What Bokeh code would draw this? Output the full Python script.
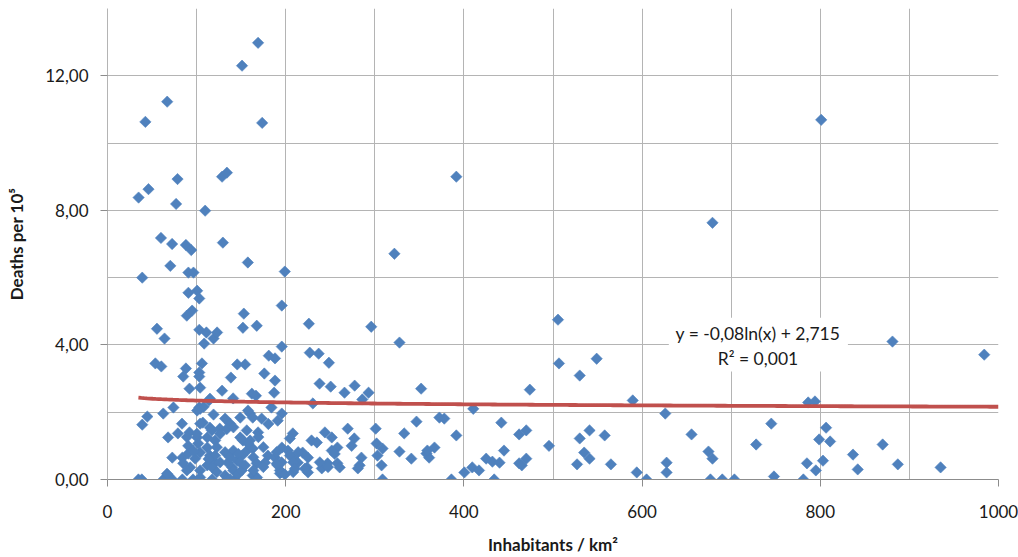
import numpy as np
from bokeh.plotting import figure
from bokeh.models import FixedTicker, Range1d, ColumnDataSource
from bokeh.core.properties import value
from bokeh.embed import file_html
from bokeh.resources import INLINE

# ---- data ----
density = [
    169, 151, 67, 42.5, 173.6, 801, 78.6, 128.6, 134, 391.5, 46, 34.9, 77, 109.6, 679,
    60, 72.5, 88, 94, 129.5, 322, 157.5, 70.5, 90.8, 96.5, 199, 39,
    90.8, 100.6, 103, 89, 95, 195.6, 505.6,
    55.5, 64, 103, 111, 108.5, 119, 123, 153, 152, 167.5, 195.6, 226, 296, 327.7, 881, 984,
    237, 227, 248.5, 53.7, 60.4, 88, 85, 106, 103, 103, 145.6, 154.5, 181, 188, 138.5, 176, 188,
    506.7, 530, 549,
    92, 104, 128.6, 187, 238, 250.5, 141, 114, 162, 166.6, 230.5, 266, 277.4, 293, 286, 352, 474,
    589.5, 786.4, 794,
    103, 108, 74, 44.7, 39, 62.6, 119, 149, 160, 173, 184, 195.6, 191, 157.7, 132, 410.5, 346.8,
    372.5, 378, 442, 626, 745,
    83.6, 92, 107, 115, 126, 137.6, 68, 79, 100.6, 112, 149, 160, 169, 208, 204.7, 229, 235, 244,
    251.7, 152, 269.6, 301, 333, 391.5, 462, 470, 277, 274, 258, 302, 308.7, 251.7, 303, 327.7,
    341, 358, 361, 367, 359, 445, 462, 470, 285, 283, 281, 258, 260.6, 307.6, 308.7, 386, 400.5,
    409.4, 417, 425, 432, 440, 434, 465,
    495.5, 530, 541, 558, 535, 541, 527, 565, 594, 605, 627.5, 627.5, 655.5, 674.5, 679, 676.7,
    690, 703.6, 728, 748, 781, 785, 795, 798.7, 806.5, 811, 803, 836.7, 842, 870, 887, 935,
    163, 156.6, 163, 195.7, 202.5, 219, 225, 208, 213.6, 180, 188, 176.7, 191, 193.5, 163, 167.8,
    135, 140, 145.5, 151, 132, 143, 224, 225, 247, 240.5,
    115, 104, 100.6, 104, 90.6, 101.8, 112, 120.8, 72.7, 84, 85, 90.6, 98.4, 104, 115, 120.8,
    92.8, 104, 112, 118.6, 34.7, 62.6, 68, 72.7, 84, 96, 104, 117.4,
    120.8, 126.4, 132, 137.6, 141.3, 146.9, 148.8, 158.1, 163.7, 167.4, 169.3, 174.9, 189.8,
    195.4, 193.5, 204.7, 208.4, 214, 221.5, 238.3, 247.5, 255,
    38.5, 66.8, 89.1, 122.7, 133.9, 137.6, 141.3, 146.9, 150.7, 154.4, 163.7, 167.4, 174.9,
    189.8, 195.4, 199.1, 208.4, 210.3,
    89.1, 100.3, 117.1, 126.4, 133.9, 141.3, 156.3, 180.5, 96.6, 113.4, 122.7,
]
deaths = [
    12.98, 12.30, 11.23, 10.63, 10.60, 10.69, 8.93, 9.00, 9.12, 9.00, 8.63, 8.38, 8.19, 7.99, 7.63,
    7.18, 7.00, 6.97, 6.82, 7.04, 6.71, 6.45, 6.35, 6.15, 6.15, 6.18, 6.00,
    5.55, 5.61, 5.38, 4.87, 5.02, 5.17, 4.75,
    4.48, 4.19, 4.45, 4.37, 4.04, 4.19, 4.37, 4.93, 4.51, 4.57, 3.95, 4.63, 4.54, 4.07, 4.10, 3.71,
    3.74, 3.77, 3.47, 3.45, 3.36, 3.30, 3.06, 3.45, 3.18, 3.06, 3.42, 3.42, 3.68, 3.60, 3.03, 3.15, 2.94,
    3.45, 3.09, 3.59,
    2.70, 2.73, 2.64, 2.58, 2.85, 2.76, 2.41, 2.35, 2.55, 2.49, 2.26, 2.58, 2.79, 2.58, 2.38, 2.70, 2.67,
    2.35, 2.29, 2.32,
    2.14, 2.16, 2.14, 1.87, 1.63, 1.96, 1.93, 1.84, 1.96, 1.81, 2.14, 1.96, 1.75, 2.05, 1.81, 2.10, 1.72,
    1.84, 1.81, 1.69, 1.96, 1.66,
    1.66, 1.40, 1.69, 1.54, 1.51, 1.66, 1.25, 1.37, 1.25, 1.25, 1.25, 1.16, 1.40, 1.37, 1.22, 1.16, 1.10, 1.40,
    1.25, 1.16, 1.51, 1.51, 1.37, 1.31, 1.34, 1.46, 1.22, 1.00, 0.95, 1.07, 0.92, 0.86, 0.71, 0.83,
    0.62, 0.77, 0.65, 0.95, 0.86, 0.86, 0.48, 0.62, 0.65, 0.42, 0.33, 0.48, 0.36, 0.42, 0.00, 0.00, 0.21,
    0.36, 0.27, 0.62, 0.53, 0.50, 0.00, 0.42,
    1.00, 1.22, 1.46, 1.31, 0.80, 0.62, 0.45, 0.45, 0.21, 0.00, 0.50, 0.21, 1.34, 0.83, 0.62, 0.00,
    0.00, 0.00, 1.04, 0.09, 0.00, 0.48, 0.27, 1.19, 1.54, 1.13, 0.56, 0.74, 0.30, 1.04, 0.45, 0.36,
    1.84, 0.86, 0.92, 0.95, 0.86, 0.80, 0.65, 0.65, 0.50, 0.71, 0.65, 0.50, 0.42, 0.18, 0.12, 0.06,
    0.50, 0.36, 0.56, 0.71, 0.12, 0.00, 0.36, 0.21, 0.48, 0.33,
    2.40, 2.10, 2.05, 1.66, 1.00, 1.07, 0.95, 1.16, 0.65, 0.65, 0.48, 0.77, 0.62, 0.80, 0.71, 0.50,
    0.36, 0.27, 0.42, 0.33, 0.00, 0.00, 0.12, 0.00, 0.00, 0.00, 0.06, 0.00,
    0.71, 0.51, 0.81, 0.66, 0.86, 0.76, 0.51, 1.06, 0.66, 0.48, 1.26, 0.96, 0.81,
    0.51, 0.27, 0.71, 0.51, 0.81, 0.32, 0.51, 0.37, 0.76,
    0.00, 0.17, 0.27, 0.22, 0.00, 0.00, 0.27, 0.17, 0.27, 0.42, 0.27, 0.00, 0.37,
    0.47, 0.22, 0.15, 0.22, 0.32,
    1.26, 1.36, 1.46, 1.36, 1.50, 1.55, 1.46, 1.65, 0.85, 0.61, 0.96,
]

# logarithmic trendline as displayed on the chart
TREND_SLOPE = -0.08
TREND_INTERCEPT = 2.715
trend_text = "y = -0,08ln(x) + 2,715"
r2_text = "R² = 0,001"

x_ticks = [0, 200, 400, 600, 800, 1000]
x_tick_labels = ["0", "200", "400", "600", "800", "1000"]
x_minor = [100, 300, 500, 700, 900]
y_ticks = [0, 4, 8, 12]
y_tick_labels = ["0,00", "4,00", "8,00", "12,00"]
y_minor = [2, 6, 10, 14]

x_title = "Inhabitants / km²"
y_title = "Deaths per 10⁵"

FONT = "Lato"
BLUE = "#4F81BD"
RED = "#C0504D"
GRID = "#b4b4b4"
TXT = "#1a1a1a"

p = figure(width=1018, height=557, output_backend="svg", toolbar_location=None,
           x_range=Range1d(0, 1000), y_range=Range1d(0, 14),
           min_border_left=107, min_border_right=20, min_border_top=8, min_border_bottom=78)
p.outline_line_color = None
p.background_fill_color = "white"
p.border_fill_color = "white"

p.xaxis.ticker = FixedTicker(ticks=x_ticks, minor_ticks=x_minor)
p.yaxis.ticker = FixedTicker(ticks=y_ticks, minor_ticks=y_minor)
p.xaxis.major_label_overrides = dict(zip(x_ticks, x_tick_labels))
p.yaxis.major_label_overrides = dict(zip(y_ticks, y_tick_labels))

for g in (p.xgrid, p.ygrid):
    g.grid_line_color = GRID
    g.minor_grid_line_color = GRID
    g.grid_line_width = 1
    g.minor_grid_line_width = 1

for ax in (p.xaxis, p.yaxis):
    ax.major_tick_in = 0
    ax.major_tick_out = 7
    ax.minor_tick_in = 0
    ax.minor_tick_out = 0
    ax.major_label_text_font = FONT
    ax.major_label_text_font_size = "17px"
    ax.major_label_text_color = TXT
    ax.axis_label_text_font = FONT
    ax.axis_label_text_font_size = "17px"
    ax.axis_label_text_font_style = "bold"
    ax.axis_label_text_color = TXT

p.xaxis.axis_line_color = "#8c8c8c"
p.xaxis.major_tick_line_color = "#8c8c8c"
p.yaxis.axis_line_color = GRID
p.yaxis.major_tick_line_color = "#8c8c8c"
p.xaxis.major_label_standoff = 18
p.xaxis.axis_label_standoff = 13
p.yaxis.major_label_standoff = 12
p.yaxis.axis_label_standoff = 15
p.xaxis.axis_label = x_title
p.yaxis.axis_label = y_title

src = ColumnDataSource(dict(x=density, y=deaths))
p.scatter("x", "y", source=src, marker="square", angle=np.pi / 4, size=8,
          fill_color=BLUE, line_color=BLUE, line_width=0.6)

tx = np.linspace(min(density), 1000, 300)
ty = TREND_SLOPE * np.log(tx) + TREND_INTERCEPT
p.line(tx, ty, line_color=RED, line_width=3.8)

# equation box
p.quad(left=[630], right=[831], bottom=[3.21], top=[4.81], fill_color="white", line_color=None)
p.text(x=[730, 730], y=[4.34, 3.59], text=[trend_text, r2_text],
       text_align="center", text_baseline="middle",
       text_font=value(FONT), text_font_size="17.5px", text_color=TXT)

open("out.html", "w").write(file_html(p, INLINE))
